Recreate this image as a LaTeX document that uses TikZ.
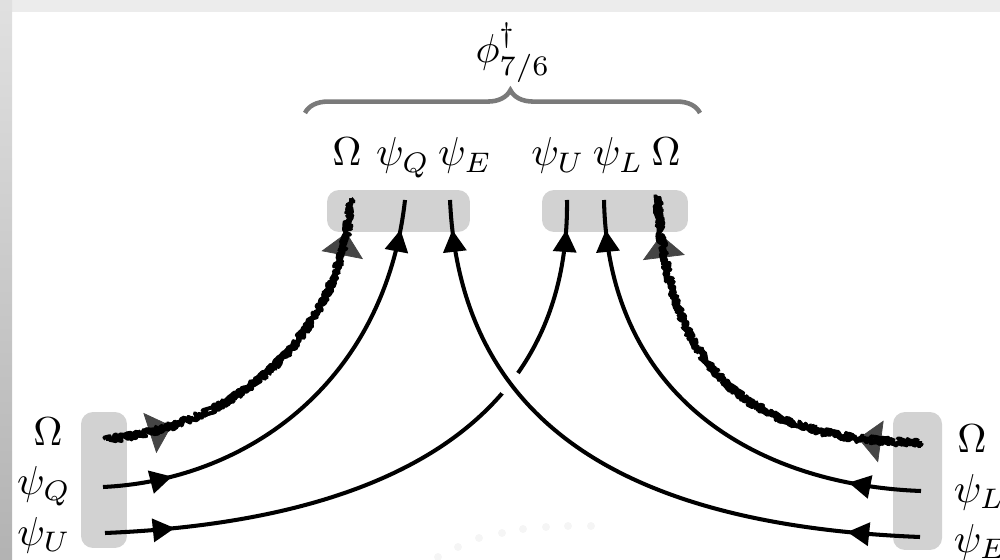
\documentclass[tikz,border=0pt]{standalone}
\usetikzlibrary{arrows.meta, decorations.pathmorphing, decorations.pathreplacing,
  decorations.markings, intersections}

\definecolor{cBox}{HTML}{D2D2D2}
\definecolor{cBrace}{HTML}{7A7A7A}
\definecolor{cTip}{HTML}{454545}
\definecolor{cFrame}{HTML}{ECECEC}

\begin{document}
\begin{tikzpicture}[
    x=0.02cm, y=-0.02cm,
    lbl/.style={scale=2.3, inner sep=0pt},
    legbox/.style={fill=cBox, rounded corners=0.24cm, inner sep=0pt},
    fermion/.style={line width=2.3pt, black},
    scrib/.style={line width=2.2pt, line join=round, black, decorate,
                  decoration={random steps, segment length=1.1pt, amplitude=2.2pt}},
    fermarr/.style 2 args={postaction={decorate}, decoration={markings,
        mark=at position #1 with {\arrow{Triangle[length=12.5pt, width=13pt]}},
        mark=at position #2 with {\arrow{Triangle[length=12.5pt, width=13pt]}}}},
    scalarr/.style 2 args={postaction={decorate}, decoration={markings,
        mark=at position #1 with {\arrow[cTip]{Triangle[length=13pt, width=24pt]}},
        mark=at position #2 with {\arrow[cTip]{Triangle[length=13pt, width=24pt]}}}},
    brc/.style={decorate, decoration={brace, amplitude=13pt, aspect=0.52},
                line width=2.6pt, cBrace},
]
\useasboundingbox (0,0) rectangle (1000,560);

% ----- frame of the cut-out -----
\fill[cFrame] (0,0) rectangle (1000,12);
\shade[top color=black!12, bottom color=black!30] (0,0) rectangle (12,560);
\foreach \px/\py in {438/557, 458/547, 479/538, 502/533, 523/529, 546/527, 568/526, 591/526}
  \fill[black!4] (\px,\py) circle [radius=0.08cm];

% ----- legs -----
\node[legbox, minimum width=2.86cm, minimum height=0.84cm] (boxA) at (398.5,211) {};
\node[legbox, minimum width=2.92cm, minimum height=0.84cm] (boxB) at (615,211) {};
\node[legbox, minimum width=0.92cm, minimum height=2.72cm] (boxL) at (104,480) {};
\node[legbox, minimum width=0.98cm, minimum height=2.76cm] (boxR) at (917.5,481) {};

% ----- operator -----
\draw[brc] (305,113) -- (700,113);
\node[lbl] (phi) at (513,53) {$\phi^{\dagger}_{7/6}$};

% ----- field labels -----
\node[lbl, anchor=base] (aOm) at (347,166) {$\Omega$};
\node[lbl, anchor=base] (aQ)  at (403,166) {$\psi_Q$};
\node[lbl, anchor=base] (aE)  at (465,166) {$\psi_E$};
\node[lbl, anchor=base] (bU)  at (558,166) {$\psi_U$};
\node[lbl, anchor=base] (bL)  at (618,166) {$\psi_L$};
\node[lbl, anchor=base] (bOm) at (666,166) {$\Omega$};

\node[lbl, anchor=base] (lOmT) at (48,445) {$\Omega$};
\node[lbl, anchor=base] (lQT)  at (44,494) {$\psi_Q$};
\node[lbl, anchor=base] (lUT)  at (44,545) {$\psi_U$};

\node[lbl, anchor=base] (rOmT) at (972,452) {$\Omega$};
\node[lbl, anchor=base west] (rLT) at (953,502) {$\psi_L$};
\node[lbl, anchor=base west] (rET) at (953,552) {$\psi_E$};

% ----- end points of the lines -----
\coordinate (tOmA) at (351,199);
\coordinate (tQ)   at (405,200);
\coordinate (tE)   at (450,200);
\coordinate (tU)   at (567,200);
\coordinate (tL)   at (604,200);
\coordinate (tOmB) at (658,199);

\coordinate (lOm) at (106,439);
\coordinate (lQ)  at (103,487);
\coordinate (lU)  at (105,533);
\coordinate (rOm) at (922,443);
\coordinate (rL)  at (921,491);
\coordinate (rE)  at (920,537);

% ----- fermion lines -----
\draw[fermion, fermarr={1.4cm}{-0.6cm}] (lQ) .. controls (250,480) and (385,380) .. (tQ);
\draw[fermion, fermarr={1.4cm}{-0.6cm}, name path=pathU]
  (lU) .. controls (300,525) and (570,470) .. (tU);
\draw[fermion, fermarr={1.46cm}{-0.6cm}] (rL) .. controls (760,485) and (608,400) .. (tL);
% psi_E goes over psi_U
\path[name path=pathE] (rE) .. controls (620,525) and (460,420) .. (tE);
\fill[white, name intersections={of=pathU and pathE}] (intersection-1) circle [radius=0.26cm];
\draw[fermion, fermarr={1.46cm}{-0.6cm}] (rE) .. controls (620,525) and (460,420) .. (tE);

% ----- Omega lines (scribbled) -----
\path[scalarr={1.34cm}{-0.68cm}] (lOm) .. controls (220,430) and (340,350) .. (tOmA);
\path[scalarr={1.28cm}{-0.72cm}] (rOm) .. controls (780,440) and (668,400) .. (tOmB);
\foreach \s in {3,7,11} {
  \pgfmathsetseed{\s}
  \draw[scrib] (lOm) .. controls (220,430) and (340,350) .. (tOmA);
  \draw[scrib] (rOm) .. controls (780,440) and (668,400) .. (tOmB);
}

\end{tikzpicture}
\end{document}
